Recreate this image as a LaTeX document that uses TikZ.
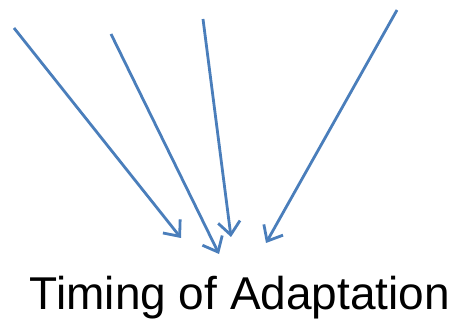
\documentclass[tikz,border=0pt]{standalone}
\usepackage{fontspec}
\setmainfont{Liberation Sans}
\usetikzlibrary{arrows.meta}
\definecolor{arrowblue}{RGB}{74,126,187}
\tikzset{
  cue/.style={draw=arrowblue, line width=2.8pt,
    -{Straight Barb[length=13pt,width=22pt,line width=2.8pt]}}
}
\begin{document}
\begin{tikzpicture}[x=1pt,y=-1pt]
  \useasboundingbox (0,0) rectangle (466,323);

  % arrow tails
  \coordinate (s1) at (14,28);
  \coordinate (s2) at (111,34);
  \coordinate (s3) at (203,19);
  \coordinate (s4) at (397,10);

  % arrow tips
  \coordinate (t1) at (181,238);
  \coordinate (t2) at (219,254);
  \coordinate (t3) at (231,237);
  \coordinate (t4) at (266,243);

  % converging arrows
  \draw[cue] (s1) -- (t1);
  \draw[cue] (s2) -- (t2);
  \draw[cue] (s3) -- (t3);
  \draw[cue] (s4) -- (t4);

  % caption
  \node[anchor=base, inner sep=0pt, font=\fontsize{46}{50}\selectfont] (label) at (240,309) {Timing of Adaptation};
\end{tikzpicture}
\end{document}
